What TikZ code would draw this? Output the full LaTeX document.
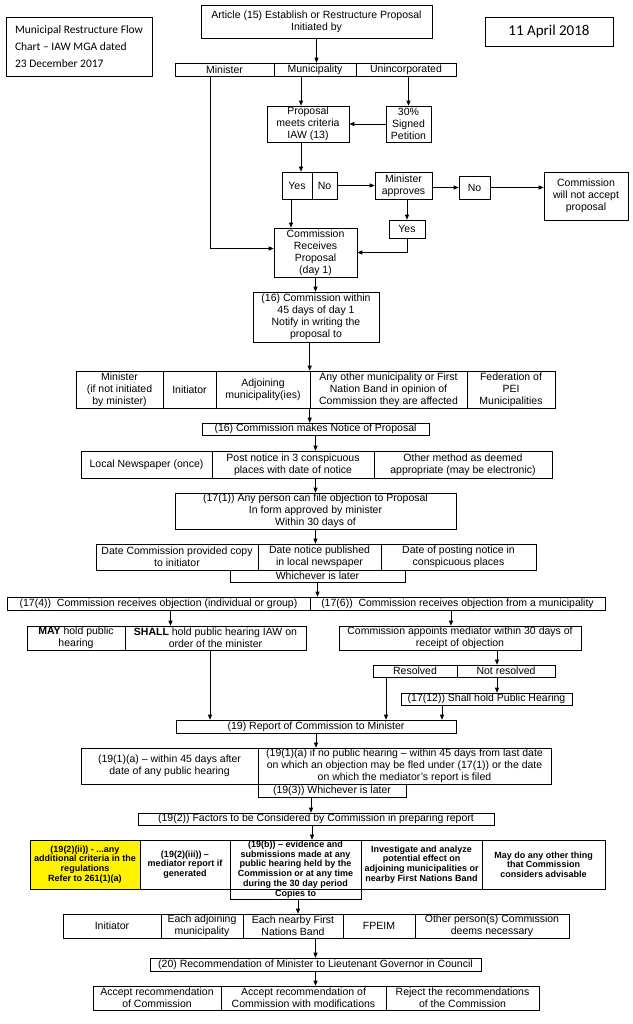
\documentclass[tikz,border=0pt]{standalone}
\usepackage{fontspec}
\setmainfont{Liberation Sans}
\newfontfamily\calibri{Carlito}
\usepackage{tikz}
\usetikzlibrary{arrows.meta, calc}

\begin{document}
\begin{tikzpicture}[x=1pt, y=-1pt,
    box/.style={draw, line width=0.6pt, inner sep=0pt, align=center, font=\fontsize{10.5}{12}\selectfont},
    factor/.style={box, font=\bfseries\fontsize{9}{9.7}\selectfont},
    arr/.style={-{Triangle[length=5pt,width=4pt]}, line width=0.7pt}]
        \useasboundingbox (0,0) rectangle (632,1024);

        % Header
        \node[box, align=left, minimum width=146, minimum height=59, font=\calibri\fontsize{11.5}{17}\selectfont] (title) at (79,46.5) {Municipal Restructure Flow\\Chart – IAW MGA dated\\23 December 2017};
        \node[box, minimum width=128, minimum height=29, font=\calibri\fontsize{15}{18}\selectfont] (datebox) at (549,31.5) {11 April 2018};
        \node[box, minimum width=231, minimum height=33] (article) at (316.5,21.5) {Article (15) Establish or Restructure Proposal\\Initiated by};

        % Initiated by
        \node[box, minimum width=99, minimum height=13] (initMin) at (224.5,69.5) {Minister};
        \node[box, minimum width=82, minimum height=13] (initMun) at (315,69.5) {Municipality};
        \node[box, minimum width=100, minimum height=13] (initUninc) at (406,69.5) {Unincorporated};

        \node[box, minimum width=82, minimum height=36] (proposal) at (308,124) {Proposal\\meets criteria\\IAW (13)};
        \node[box, minimum width=45, minimum height=36] (petition) at (408.5,124) {30\%\\Signed\\Petition};

        % Yes / No
        \node[box, minimum width=30, minimum height=27] (yes) at (297,185.5) {Yes};
        \node[box, minimum width=25, minimum height=27] (no) at (324.5,185.5) {No};
        \node[box, minimum width=57, minimum height=27] (minapp) at (403.5,185.5) {Minister\\approves};
        \node[box, minimum width=31, minimum height=23] (no2) at (474.5,187.5) {No};
        \node[box, minimum width=84, minimum height=48] (notaccept) at (586,196) {Commission\\will not accept\\proposal};
        \node[box, minimum width=36, minimum height=18] (yes2) at (407,229) {Yes};
        \node[box, minimum width=83, minimum height=49] (receives) at (315.5,252.5) {Commission\\Receives\\Proposal\\(day 1)};

        % Notify
        \node[box, minimum width=126, minimum height=50] (notify) at (316,317) {(16) Commission within\\45 days of day 1\\Notify in writing the\\proposal to};
        \node[box, minimum width=87, minimum height=37] (nMin) at (119.5,389.5) {Minister\\(if not initiated\\by minister)};
        \node[box, minimum width=53, minimum height=37] (nInit) at (189.5,389.5) {Initiator};
        \node[box, minimum width=94, minimum height=37] (nAdj) at (263,389.5) {Adjoining\\municipality(ies)};
        \node[box, minimum width=157, minimum height=37] (nAny) at (388.5,389.5) {Any other municipality or First\\Nation Band in opinion of\\Commission they are affected};
        \node[box, minimum width=88, minimum height=37] (nFed) at (511,389.5) {Federation of\\PEI\\Municipalities};

        % Notice
        \node[box, minimum width=227, minimum height=12] (notice) at (315.5,429) {(16) Commission makes Notice of Proposal};
        \node[box, minimum width=131, minimum height=27] (mNews) at (146.5,464.5) {Local Newspaper (once)};
        \node[box, minimum width=162, minimum height=27] (mPost) at (293,464.5) {Post notice in 3 conspicuous\\places with date of notice};
        \node[box, minimum width=178, minimum height=27] (mOther) at (463,464.5) {Other method as deemed\\appropriate (may be electronic)};

        % Objection
        \node[box, minimum width=281, minimum height=36] (obj17) at (315.5,511) {(17(1)) Any person can file objection to Proposal\\In form approved by minister\\Within 30 days of};
        \node[box, minimum width=162, minimum height=26] (dCopy) at (177,557) {Date Commission provided copy\\to initiator};
        \node[box, minimum width=123, minimum height=26] (dPub) at (319.5,557) {Date notice published\\in local newspaper};
        \node[box, minimum width=155, minimum height=26] (dPost) at (458.5,557) {Date of posting notice in\\conspicuous places};
        \node[box, minimum width=175, minimum height=12] (later1) at (317.5,576) {Whichever is later};

        \node[box, minimum width=303, minimum height=13] (objA) at (158.5,603.5) {(17(4))\ \ Commission receives objection (individual or group)};
        \node[box, minimum width=295, minimum height=13] (objB) at (457.5,603.5) {(17(6))\ \ Commission receives objection from a municipality};
        \node[box, minimum width=98, minimum height=24] (hMay) at (76,638) {\textbf{MAY} hold public\\hearing};
        \node[box, minimum width=181, minimum height=24] (hShall) at (215.5,638) {\textbf{SHALL} hold public hearing IAW on\\order of the minister};
        \node[box, minimum width=242, minimum height=24] (mediator) at (460,638) {Commission appoints mediator within 30 days of\\receipt of objection};
        \node[box, minimum width=84, minimum height=12] (rRes) at (415,671) {Resolved};
        \node[box, minimum width=98, minimum height=12] (rNot) at (506,671) {Not resolved};
        \node[box, minimum width=171, minimum height=12] (hear1712) at (486.5,699) {(17(12)) Shall hold Public Hearing};

        % Report
        \node[box, minimum width=280, minimum height=13] (report) at (316,726.5) {(19) Report of Commission to Minister};
        \node[box, minimum width=177, minimum height=36] (tLeft) at (169.5,766) {(19(1)(a) -- within 45 days after\\date of any public hearing};
        \node[box, minimum width=293, minimum height=36] (tRight) at (404.5,766) {(19(1)(a) if no public hearing -- within 45 days from last date\\on which an objection may be fled under (17(1)) or the date\\on which the mediator's report is filed};
        \node[box, minimum width=148, minimum height=13] (later2) at (332,790.5) {(19(3)) Whichever is later};

        % Factors
        \node[box, minimum width=356, minimum height=12] (factors) at (316,819) {(19(2)) Factors to be Considered by Commission in preparing report};
        \node[factor, fill=yellow, minimum width=110, minimum height=49] (fCrit) at (85,864.5) {(19(2)(ii)) - ...any\\additional criteria in the\\regulations\\Refer to 261(1)(a)};
        \node[factor, minimum width=90, minimum height=49] (fMed) at (185,864.5) {(19(2)(iii)) --\\mediator report if\\generated};
        \node[factor, minimum width=131, minimum height=49] (fEvid) at (295.5,864.5) {(19(b)) -- evidence and\\submissions made at any\\public hearing held by the\\Commission or at any time\\during the 30 day period};
        \node[factor, minimum width=121, minimum height=49] (fInv) at (421.5,864.5) {Investigate and analyze\\potential effect on\\adjoining municipalities or\\nearby First Nations Band};
        \node[factor, minimum width=123, minimum height=49] (fOther) at (543.5,864.5) {May do any other thing\\that Commission\\considers advisable};
        \node[factor, minimum width=131, minimum height=10] (copies) at (295.5,894) {Copies to};

        % Copies to
        \node[box, minimum width=98, minimum height=24] (cInit) at (112,926) {Initiator};
        \node[box, minimum width=82, minimum height=24] (cAdj) at (202,926) {Each adjoining\\municipality};
        \node[box, minimum width=100, minimum height=24] (cNear) at (293,926) {Each nearby First\\Nations Band};
        \node[box, minimum width=72, minimum height=24] (cFpeim) at (379,926) {FPEIM};
        \node[box, minimum width=154, minimum height=24] (cOther) at (492,926) {Other person(s) Commission\\deems necessary};

        % Recommendation
        \node[box, minimum width=331, minimum height=13] (recommend) at (315.5,964.5) {(20) Recommendation of Minister to Lieutenant Governor in Council};
        \node[box, minimum width=128, minimum height=24] (aAccept) at (157,998) {Accept recommendation\\of Commission};
        \node[box, minimum width=165, minimum height=24] (aModify) at (303.5,998) {Accept recommendation of\\Commission with modifications};
        \node[box, minimum width=153, minimum height=24] (aReject) at (462.5,998) {Reject the recommendations\\of the Commission};

        % Connectors
        \draw[arr] (article.south) -- (article.south |- initMun.north);
        \draw[arr] ([xshift=-7pt]proposal.north |- initMun.south) -- ([xshift=-7pt]proposal.north);
        \draw[arr] (petition.north |- initUninc.south) -- (petition.north);
        \draw[arr] (petition.west) -- (proposal.east);
        \draw[arr] ([xshift=-7pt]proposal.south) -- ([xshift=-7pt]proposal.south |- yes.north);
        \draw[arr] (no.east) -- (minapp.west);
        \draw[arr] (no2.west -| minapp.east) -- (no2.west);
        \draw[arr] (no2.east) -- (no2.east -| notaccept.west);
        \draw[arr] (yes2.north |- minapp.south) -- (yes2.north);
        \draw[arr] (yes2.south) |- (receives.east);
        \draw[arr] ([xshift=-6pt]yes.south) -- ([xshift=-6pt]yes.south |- receives.north);
        \draw[arr] ([xshift=-14.5pt]initMin.south) |- ([yshift=4pt]receives.west);
        \draw[arr] (receives.south) -- (receives.south |- notify.north);
        \draw[arr] (nAny.north west |- notify.south) -- (nAny.north west);
        \draw[arr] (nAny.south west) -- (nAny.south west |- notice.north);
        \draw[arr] (notice.south) -- (notice.south |- mPost.north);
        \draw[arr] (obj17.north |- mPost.south) -- (obj17.north);
        \draw[arr] (obj17.south) -- (obj17.south |- dPub.north);
        \draw[arr] (later1.south) -- (later1.south |- objB.north);
        \draw[arr] ([xshift=12pt]objA.south) -- ([xshift=12pt]objA.south |- hShall.north);
        \draw[arr] ([xshift=-9pt]mediator.north |- objB.south) -- ([xshift=-9pt]mediator.north);
        \draw[arr] ([xshift=37pt]mediator.south) -- ([xshift=37pt]mediator.south |- rNot.north);
        \draw[arr] ([xshift=-9pt]rNot.south) -- ([xshift=-9pt]rNot.south |- hear1712.north);
        \draw[arr] ([xshift=-29pt]rRes.south) -- ([xshift=-29pt]rRes.south |- report.north);
        \draw[arr] ([xshift=-44.5pt]hear1712.south) -- ([xshift=-44.5pt]hear1712.south |- report.north);
        \draw[arr] ([xshift=-5.5pt]hShall.south) -- ([xshift=-5.5pt]hShall.south |- report.north);
        \draw[arr] (report.south) -- (report.south |- tRight.north);
        \draw[arr] ([xshift=-21pt]later2.south) -- ([xshift=-21pt]later2.south |- factors.north);
        \draw[arr] ([xshift=-4pt]factors.south) -- ([xshift=-4pt]factors.south |- fEvid.north);
        \draw[arr] ([xshift=2.5pt]copies.south) -- ([xshift=2.5pt]copies.south |- cNear.north);
        \draw[arr] (recommend.north |- cNear.south) -- (recommend.north);
        \draw[arr] (recommend.south) -- (recommend.south |- aModify.north);
    \end{tikzpicture}
\end{document}
